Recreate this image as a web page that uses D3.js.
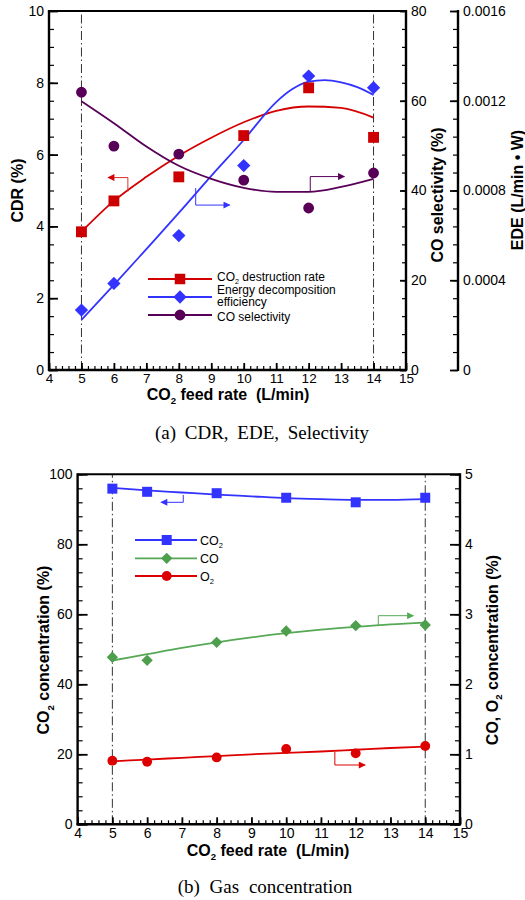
<!DOCTYPE html>
<html><head><meta charset="utf-8">
<script src="https://cdn.jsdelivr.net/npm/d3@7"></script>
<style>
body{margin:0;background:#fff}
svg{display:block}
text{font-family:"Liberation Sans",Arial,Helvetica,sans-serif;fill:#000}
.cap{font-family:"Liberation Serif","Times New Roman",serif}
</style>
</head><body>
<script>
// ---- Panel (a): CDR, EDE, CO selectivity vs CO2 feed rate ----
const feedRates = [5, 6, 8, 10, 12, 14];
const cdr = [3.85, 4.71, 5.38, 6.53, 7.86, 6.48];                         // %
const ede = [0.000267, 0.000386, 0.000599, 0.000911, 0.00131, 0.001258];  // L/min·W
const coSel = [61.9, 49.9, 48.1, 42.3, 36.1, 43.9];                       // %

// fitted trend lines
const fitX = [5, 6, 7, 8, 9, 10, 11, 12, 13, 14];
const cdrFit = [3.85, 4.71, 5.38, 5.97, 6.47, 6.9, 7.22, 7.34, 7.3, 7.03];
const coSelFit = [59.9, 55.0, 49.8, 45.5, 42.6, 40.6, 39.7, 39.7, 40.8, 42.6];
const edeFitX = [5, 6, 7, 8, 9, 10, 11, 11.5, 12, 12.5, 13, 13.5, 14];
const edeFit = [0.000223, 0.000379, 0.000539, 0.0007, 0.000865, 0.001025, 0.001194,
                0.001252, 0.001285, 0.001292, 0.001282, 0.001261, 0.001226];

// ---- Panel (b): gas concentrations vs CO2 feed rate ----
const co2Conc = [95.9, 95.0, 94.6, 93.3, 92.0, 93.3];       // % (left axis)
const coConc = [2.386, 2.343, 2.60, 2.761, 2.837, 2.847];   // % (right axis)
const o2Conc = [0.909, 0.894, 0.955, 1.077, 1.014, 1.119];  // % (right axis)
const co2Fit = [96.1, 95.4, 94.8, 94.2, 93.7, 93.2, 92.9, 92.7, 92.7, 92.9];
const coFit = [2.34, 2.43, 2.52, 2.60, 2.67, 2.73, 2.78, 2.82, 2.855, 2.88];
const o2Fit = [0.90, 0.925, 0.95, 0.975, 1.0, 1.02, 1.04, 1.065, 1.09, 1.11];

// axis tick labels
const xTicks = [4, 5, 6, 7, 8, 9, 10, 11, 12, 13, 14, 15];
const cdrTicks = [0, 2, 4, 6, 8, 10];
const selTicks = [0, 20, 40, 60, 80];
const edeTicks = [0, 0.0004, 0.0008, 0.0012, 0.0016];
const co2Ticks = [0, 20, 40, 60, 80, 100];
const rightTicksB = [0, 1, 2, 3, 4, 5];

const RED = "#d40000", BLUE = "#3333ff", PURPLE = "#580058", GREEN = "#55a855", BRED = "#dd0000";

const svg = d3.select("body").append("svg").attr("width", 525).attr("height", 900);

// arrowheads for the axis-pointer annotations
const defs = svg.append("defs");
[["r", RED], ["b", BLUE], ["p", PURPLE], ["g", GREEN], ["o", BRED]].forEach(([id, c]) => {
  defs.append("marker").attr("id", "ah-" + id).attr("viewBox", "0 0 10 10")
    .attr("refX", 9).attr("refY", 5).attr("markerWidth", 10).attr("markerHeight", 7)
    .attr("markerUnits", "userSpaceOnUse").attr("orient", "auto")
    .append("path").attr("d", "M0,0L10,5L0,10z").attr("fill", c);
});

function vAxis(g, scale, x, side, majors, minors, majLen, minLen, fmt, fs) {
  const mk = () => side === "left" ? d3.axisLeft(scale) : d3.axisRight(scale);
  const gm = g.append("g").attr("transform", `translate(${x},0)`)
    .call(mk().tickValues(minors).tickSize(-minLen).tickSizeOuter(0).tickFormat(""));
  const gM = g.append("g").attr("transform", `translate(${x},0)`)
    .call(mk().tickValues(majors).tickSize(-majLen).tickSizeOuter(0).tickPadding(5).tickFormat(fmt));
  [gm, gM].forEach(a => { a.select(".domain").remove(); a.attr("font-family", null).attr("font-size", null); });
  gm.selectAll("line").attr("stroke", "#000").attr("stroke-width", 1.2);
  gM.selectAll("line").attr("stroke", "#000").attr("stroke-width", 1.8);
  gM.selectAll("text").style("font-size", fs + "px").attr("fill", "#000");
  const r = scale.range();
  g.append("line").attr("x1", x).attr("x2", x).attr("y1", r[0] + 1).attr("y2", r[1] - 1)
    .attr("stroke", "#000").attr("stroke-width", 2.4);
}

function hAxis(g, scale, y, majors, minors, majLen, minLen, fs, pad) {
  const gm = g.append("g").attr("transform", `translate(0,${y})`)
    .call(d3.axisBottom(scale).tickValues(minors).tickSize(-minLen).tickSizeOuter(0).tickFormat(""));
  const gM = g.append("g").attr("transform", `translate(0,${y})`)
    .call(d3.axisBottom(scale).tickValues(majors).tickSize(-majLen).tickSizeOuter(0).tickPadding(pad).tickFormat(d3.format("d")));
  [gm, gM].forEach(a => { a.select(".domain").remove(); a.attr("font-family", null).attr("font-size", null); });
  gm.selectAll("line").attr("stroke", "#000").attr("stroke-width", 1.2);
  gM.selectAll("line").attr("stroke", "#000").attr("stroke-width", 1.8);
  gM.selectAll("text").style("font-size", fs + "px").attr("fill", "#000");
  const r = scale.range();
  g.append("line").attr("x1", r[0] - 1).attr("x2", r[1] + 1).attr("y1", y).attr("y2", y)
    .attr("stroke", "#000").attr("stroke-width", 2.4);
}

function refLines(g, x, yScale, xs) {
  const r = yScale.range();
  xs.forEach(v => g.append("line").attr("x1", x(v)).attr("x2", x(v)).attr("y1", r[0]).attr("y2", r[1])
    .attr("stroke", "#333").attr("stroke-width", 1).attr("stroke-dasharray", "9,3,1.5,3"));
}

function fitLine(g, xs, ys, x, y, color, w) {
  g.append("path").datum(xs.map((v, i) => [v, ys[i]]))
    .attr("d", d3.line().x(d => x(d[0])).y(d => y(d[1])).curve(d3.curveMonotoneX))
    .attr("fill", "none").attr("stroke", color).attr("stroke-width", w);
}

function markers(g, xs, ys, x, y, shape, color, size) {
  const sym = shape === "circle" ? d3.symbolCircle : d3.symbolSquare;
  const rot = shape === "diamond" ? 45 : 0;
  g.selectAll(null).data(xs.map((v, i) => [v, ys[i]])).join("path")
    .attr("d", d3.symbol(sym, size))
    .attr("transform", d => `translate(${x(d[0])},${y(d[1])}) rotate(${rot})`)
    .attr("fill", color);
}

function pointer(g, pts, x, y, color, id) {
  g.append("path").datum(pts)
    .attr("d", d3.line().x(d => x(d[0])).y(d => y(d[1])))
    .attr("fill", "none").attr("stroke", color).attr("stroke-width", 1)
    .attr("marker-end", `url(#ah-${id})`);
}

function subText(t, parts, fs) {
  // parts: [text, isSubscript]
  parts.forEach(([s, sub]) => {
    const ts = t.append("tspan").text(s);
    if (sub) ts.style("font-size", (fs * 0.6) + "px").attr("dy", fs * 0.28);
    else if (t.node().childNodes.length > 1) ts.attr("dy", -fs * 0.28);
  });
}

// ================= Panel (a) =================
{
  const g = svg.append("g");
  const x = d3.scaleLinear().domain([4, 15]).range([49, 406]);
  const yC = d3.scaleLinear().domain([0, 10]).range([370, 11]);
  const yS = d3.scaleLinear().domain([0, 80]).range([370, 11]);
  const yE = d3.scaleLinear().domain([0, 0.0016]).range([370, 11]);

  refLines(g, x, yC, [5, 14]);

  // top frame
  g.append("line").attr("x1", 49).attr("x2", 406).attr("y1", 11).attr("y2", 11)
    .attr("stroke", "#000").attr("stroke-width", 2);

  vAxis(g, yC, 49, "left", cdrTicks, d3.range(0, 10.01, 0.5), 9, 5, d3.format("d"), 14);
  vAxis(g, yS, 406, "right", selTicks, d3.range(0, 80.1, 4), 6, 4, d3.format("d"), 14);
  vAxis(g, yE, 458, "right", edeTicks, d3.range(0, 0.00161, 0.00008), 8, 5,
        d => d === 0 ? "0" : d.toFixed(4), 14);
  hAxis(g, x, 370, xTicks, d3.range(4, 15.01, 0.2), 7, 4, 13.5, 3);

  fitLine(g, fitX, cdrFit, x, yC, RED, 1.8);
  fitLine(g, edeFitX, edeFit, x, yE, BLUE, 1.8);
  fitLine(g, fitX, coSelFit, x, yS, PURPLE, 1.8);

  markers(g, feedRates, cdr, x, yC, "square", "#cc0000", 118);
  markers(g, feedRates, ede, x, yE, "diamond", BLUE, 88);
  markers(g, feedRates, coSel, x, yS, "circle", PURPLE, 92);

  pointer(g, [[6.43, 4.97], [6.43, 5.36], [5.82, 5.36]], x, yC, "#e03030", "r");
  pointer(g, [[8.52, 0.000811], [8.52, 0.000735], [9.57, 0.000735]], x, yE, BLUE, "b");
  pointer(g, [[12.05, 39.7], [12.05, 43.1], [13.1, 43.1]], x, yS, PURPLE, "p");

  // legend
  const lg = g.append("g");
  const items = [
    ["square", RED, "#cc0000", 279, [["CO", 0], ["2", 1], [" destruction rate", 0]], 280.5],
    ["diamond", BLUE, BLUE, 297, null, 0],
    ["circle", PURPLE, PURPLE, 315, [["CO selectivity", 0]], 320.5]
  ];
  items.forEach(([shape, lc, mc, yy, label, ty]) => {
    lg.append("line").attr("x1", 148).attr("x2", 212).attr("y1", yy).attr("y2", yy)
      .attr("stroke", lc).attr("stroke-width", 1.8);
    markers(lg, [180], [yy], d => d, d => d, shape, mc, shape === "diamond" ? 88 : shape === "circle" ? 92 : 110);
    if (label) {
      const t = lg.append("text").attr("x", 217).attr("y", ty).style("font-size", "12px");
      subText(t, label, 12);
    }
  });
  lg.append("text").attr("x", 217).attr("y", 293.5).style("font-size", "12px").text("Energy decomposition");
  lg.append("text").attr("x", 217).attr("y", 306).style("font-size", "12px").text("efficiency");

  // axis titles
  g.append("text").attr("transform", "translate(17.5,190.5) rotate(-90)").attr("dy", "0.35em")
    .attr("text-anchor", "middle").style("font-size", "16px").style("font-weight", "bold").text("CDR (%)");
  g.append("text").attr("transform", "translate(437,195) rotate(-90)").attr("dy", "0.35em")
    .attr("text-anchor", "middle").style("font-size", "16px").style("font-weight", "bold").text("CO selectivity (%)");
  g.append("text").attr("transform", "translate(517,190) rotate(-90)").attr("dy", "0.35em")
    .attr("text-anchor", "middle").style("font-size", "16px").style("font-weight", "bold").text("EDE (L/min \u2022 W)");
  const xt = g.append("text").attr("x", 228).attr("y", 400).attr("text-anchor", "middle")
    .style("font-size", "16px").style("font-weight", "bold");
  subText(xt, [["CO", 0], ["2", 1], [" feed rate \u00a0(L/min)", 0]], 16);

  g.append("text").attr("class", "cap").attr("x", 262).attr("y", 439).attr("text-anchor", "middle")
    .style("font-size", "19px").style("word-spacing", "4px").text("(a)  CDR,  EDE,  Selectivity");
}

// ================= Panel (b) =================
{
  const g = svg.append("g");
  const x = d3.scaleLinear().domain([4, 15]).range([77.6, 460]);
  const yL = d3.scaleLinear().domain([0, 100]).range([824.3, 474.3]);
  const yR = d3.scaleLinear().domain([0, 5]).range([824.3, 474.3]);

  refLines(g, x, yL, [5, 14]);
  g.append("line").attr("x1", 77.6).attr("x2", 460).attr("y1", 474.3).attr("y2", 474.3)
    .attr("stroke", "#000").attr("stroke-width", 2);

  vAxis(g, yL, 77.6, "left", co2Ticks, d3.range(0, 100.1, 4), 10, 5, d3.format("d"), 14);
  vAxis(g, yR, 460, "right", rightTicksB, d3.range(0, 5.01, 0.2), 10, 5, d3.format("d"), 14);
  hAxis(g, x, 824.3, xTicks, d3.range(4, 15.01, 0.2), 7, 4, 14, 4);

  fitLine(g, fitX, co2Fit, x, yL, BLUE, 1.8);
  fitLine(g, fitX, coFit, x, yR, GREEN, 1.8);
  fitLine(g, fitX, o2Fit, x, yR, BRED, 1.8);

  markers(g, feedRates, co2Conc, x, yL, "square", BLUE, 100);
  markers(g, feedRates, coConc, x, yR, "diamond", "#4d9e4d", 64);
  markers(g, feedRates, o2Conc, x, yR, "circle", BRED, 76);

  pointer(g, [[7.04, 94.1], [7.04, 92.0], [6.4, 92.0]], x, yL, BLUE, "b");
  pointer(g, [[12.65, 2.847], [12.65, 2.98], [13.66, 2.98]], x, yR, GREEN, "g");
  pointer(g, [[11.4, 1.033], [11.4, 0.847], [12.27, 0.847]], x, yR, BRED, "o");

  const lg = g.append("g");
  const items = [
    ["square", BLUE, BLUE, 540, [["CO", 0], ["2", 1]]],
    ["diamond", GREEN, "#4d9e4d", 558.3, [["CO", 0]]],
    ["circle", BRED, BRED, 576, [["O", 0], ["2", 1]]]
  ];
  items.forEach(([shape, lc, mc, yy, label]) => {
    lg.append("line").attr("x1", 135).attr("x2", 197).attr("y1", yy).attr("y2", yy)
      .attr("stroke", lc).attr("stroke-width", 1.8);
    markers(lg, [166.7], [yy], d => d, d => d, shape, mc, shape === "diamond" ? 64 : shape === "circle" ? 76 : 100);
    const t = lg.append("text").attr("x", 200).attr("y", yy + 4.5).style("font-size", "12.5px");
    subText(t, label, 12.5);
  });

  const yt = g.append("text").attr("transform", "translate(43.5,650) rotate(-90)").attr("dy", "0.35em")
    .attr("text-anchor", "middle").style("font-size", "16px").style("font-weight", "bold");
  subText(yt, [["CO", 0], ["2", 1], [" concentration (%)", 0]], 16);
  const rt = g.append("text").attr("transform", "translate(492,650) rotate(-90)").attr("dy", "0.35em")
    .attr("text-anchor", "middle").style("font-size", "16px").style("font-weight", "bold");
  subText(rt, [["CO, O", 0], ["2", 1], [" concentration (%)", 0]], 16);
  const xt = g.append("text").attr("x", 268).attr("y", 856).attr("text-anchor", "middle")
    .style("font-size", "16px").style("font-weight", "bold");
  subText(xt, [["CO", 0], ["2", 1], [" feed rate \u00a0(L/min)", 0]], 16);

  g.append("text").attr("class", "cap").attr("x", 265).attr("y", 893).attr("text-anchor", "middle")
    .style("font-size", "19px").style("word-spacing", "5px").text("(b)  Gas  concentration");
}
</script>
</body></html>
